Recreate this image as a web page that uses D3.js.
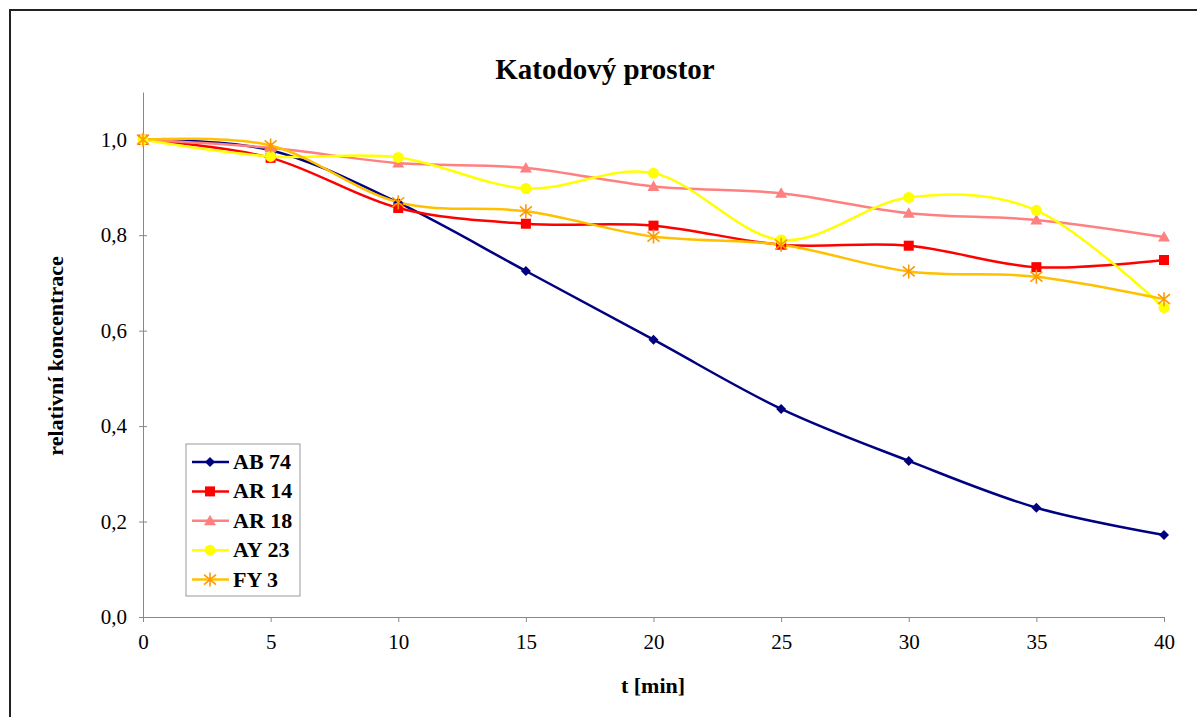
<!DOCTYPE html>
<html>
<head>
<meta charset="utf-8">
<script src="https://cdn.jsdelivr.net/npm/d3@7"></script>
<style>
  body { margin: 0; background: #fff; }
</style>
</head>
<body>
<svg id="chart" width="1197" height="717"></svg>
<script>
// data
const times = [0, 5, 10, 15, 20, 25, 30, 35, 40];
const ab74 = [1.0, 0.978, 0.868, 0.725, 0.581, 0.436, 0.327, 0.229, 0.172];
const ar14 = [1.0, 0.962, 0.857, 0.824, 0.820, 0.780, 0.778, 0.733, 0.748];
const ar18 = [1.0, 0.983, 0.951, 0.941, 0.902, 0.888, 0.846, 0.832, 0.796];
const ay23 = [1.0, 0.965, 0.963, 0.898, 0.930, 0.790, 0.879, 0.852, 0.648];
const fy3  = [1.0, 0.988, 0.869, 0.850, 0.797, 0.780, 0.724, 0.713, 0.666];
const yTicks = [0, 0.2, 0.4, 0.6, 0.8, 1.0];
const xTicks = [0, 5, 10, 15, 20, 25, 30, 35, 40];

const series = [
  {name: "AB 74", values: ab74, line: "#000080", mark: "#000080", shape: "diamond"},
  {name: "AR 14", values: ar14, line: "#ff0000", mark: "#ff0000", shape: "square"},
  {name: "AR 18", values: ar18, line: "#ff8080", mark: "#ff8080", shape: "triangle"},
  {name: "AY 23", values: ay23, line: "#ffff00", mark: "#ffff00", shape: "circle"},
  {name: "FY 3",  values: fy3,  line: "#ffc000", mark: "#ff9900", shape: "star"}
];

const FONT = "Times New Roman, Liberation Serif, serif";

const svg = d3.select("#chart");

// outer frame
svg.append("rect").attr("x", 10).attr("y", 10).attr("width", 1200).attr("height", 720)
  .attr("fill", "none").attr("stroke", "#222").attr("stroke-width", 2);

const x = d3.scaleLinear().domain([0, 40]).range([143, 1164]);
const y = d3.scaleLinear().domain([0, 1.1]).range([617, 92]);

const fmt = d => d3.format(".1f")(d).replace(".", ",");

svg.append("g").attr("transform", "translate(143,0)")
  .call(d3.axisLeft(y).tickValues(yTicks).tickFormat(fmt).tickSize(5).tickSizeOuter(0).tickPadding(11))
  .call(g => g.select(".domain").attr("stroke", "#888"))
  .call(g => g.selectAll(".tick line").attr("stroke", "#888").attr("x2", 4).attr("x1", -4))
  .call(g => g.selectAll("text").attr("font-size", 21).attr("font-family", FONT).attr("fill", "#000"));

svg.append("g").attr("transform", "translate(0,617)")
  .call(d3.axisBottom(x).tickValues(xTicks).tickFormat(d3.format("d")).tickSize(5).tickSizeOuter(0).tickPadding(12))
  .call(g => g.select(".domain").attr("stroke", "#888"))
  .call(g => g.selectAll(".tick line").attr("stroke", "#888"))
  .call(g => g.selectAll("text").attr("font-size", 21).attr("font-family", FONT).attr("fill", "#000"));

// titles
svg.append("text").attr("x", 605).attr("y", 79).attr("text-anchor", "middle").attr("font-family", FONT)
  .attr("font-size", 29).attr("font-weight", "bold").text("Katodový prostor");
svg.append("text").attr("x", 653).attr("y", 693).attr("text-anchor", "middle").attr("font-family", FONT)
  .attr("font-size", 22).attr("font-weight", "bold").text("t [min]");
svg.append("text").attr("transform", "translate(63,356) rotate(-90)").attr("text-anchor", "middle")
  .attr("font-family", FONT).attr("font-size", 22).attr("font-weight", "bold").text("relativní koncentrace");

const line = d3.line().curve(d3.curveCardinal.tension(0))
  .x((d, i) => x(times[i])).y(d => y(d));

function drawMarker(g, shape, color) {
  if (shape === "diamond") {
    g.append("path").attr("d", "M0,-5L5,0L0,5L-5,0Z").attr("fill", color);
  } else if (shape === "square") {
    g.append("rect").attr("x", -5).attr("y", -5).attr("width", 10).attr("height", 10).attr("fill", color);
  } else if (shape === "triangle") {
    g.append("path").attr("d", "M0,-6L6,4.5L-6,4.5Z").attr("fill", color);
  } else if (shape === "circle") {
    g.append("circle").attr("r", 5.5).attr("fill", color);
  } else {
    g.append("path").attr("d", "M0,-7V7M-6,-5L6,5M-6,5L6,-5")
      .attr("stroke", color).attr("stroke-width", 1.6).attr("fill", "none");
  }
}

const plot = svg.append("g");
series.forEach(s => {
  plot.append("path").attr("d", line(s.values)).attr("fill", "none")
    .attr("stroke", s.line).attr("stroke-width", 2.5);
});
series.forEach(s => {
  s.values.forEach((v, i) => {
    const g = plot.append("g").attr("transform", `translate(${x(times[i])},${y(v)})`);
    drawMarker(g, s.shape, s.mark);
  });
});

// legend
const legend = svg.append("g");
legend.append("rect").attr("x", 186).attr("y", 444).attr("width", 114).attr("height", 152)
  .attr("fill", "#fff").attr("stroke", "#999").attr("stroke-width", 1);
series.forEach((s, i) => {
  const ly = 462 + i * 29.4;
  legend.append("line").attr("x1", 192).attr("x2", 229).attr("y1", ly).attr("y2", ly)
    .attr("stroke", s.line).attr("stroke-width", 2.5);
  drawMarker(legend.append("g").attr("transform", `translate(210,${ly})`), s.shape, s.mark);
  legend.append("text").attr("x", 233).attr("y", ly + 7).attr("font-size", 22).attr("font-family", FONT)
    .attr("font-weight", "bold").text(s.name);
});
</script>
</body>
</html>
